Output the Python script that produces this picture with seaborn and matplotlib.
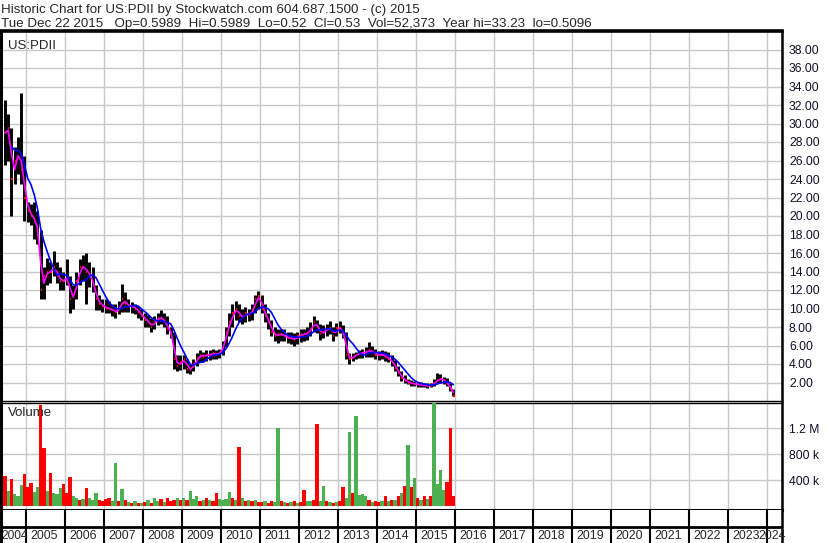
import numpy as np
import pandas as pd
import matplotlib
matplotlib.use("Agg")
import matplotlib.pyplot as plt
import seaborn as sns

# monthly bars, Jun 2004 .. Dec 2015
first_month = "2004-06"
price_hi = [32.5, 31, 29.5, 27.5, 28.5, 33.3, 26.5,
            21.5, 21.3, 21.5, 20.5, 18.5, 14.5, 15.5, 15, 16.2, 15, 14.5, 14,
            15.3, 13.5, 12.5, 14, 15.3, 15.8, 16, 15, 14.5, 12.5, 11.5, 11,
            11, 10.8, 10.5, 10.5, 10.8, 12.6, 11.8, 11, 10.7, 10.5, 10.3, 10,
            9.5, 9.3, 9, 9.2, 9.5, 9.8, 9.5, 9.2, 8, 7.5, 5, 5,
            5, 4.5, 4, 4.5, 5.2, 5.5, 5.3, 5.5, 5.5, 5.6, 5.5, 5.6,
            6.5, 8, 9.5, 10.5, 10.8, 10.5, 10, 10.2, 10, 10.5, 11.5, 11.9,
            11.5, 10.5, 9.5, 8.8, 8, 7.8, 7.8, 7.8, 7.5, 7.5, 7.3, 7.5,
            7.8, 7.8, 8, 8.5, 9.2, 8.8, 8.3, 8.2, 8.3, 8.6, 8, 8.4,
            8.6, 8.2, 7.5, 5.2, 5.2, 5.3, 5.5, 5.6, 5.8, 6.4, 6, 5.6,
            5.4, 5.5, 5.4, 5.3, 5, 4.4, 3.8, 3.2, 2.8, 2.4, 2.3, 2.2,
            2.1, 2.1, 2, 2, 2, 2.4, 3, 2.9, 2.6, 2.5, 1.9, 1.3]
price_lo = [25.5, 26, 20, 23.5, 24.5, 23.5, 19.5,
            19.3, 19, 17.5, 17, 11, 11, 12.5, 12.8, 13.5, 12.8, 12, 12,
            12.5, 9.5, 10, 11, 12.5, 13, 10.5, 12.3, 11.8, 9.8, 9.8, 9.6,
            9.5, 9.5, 9.2, 9, 9.4, 9.6, 9.6, 9.6, 9.5, 9.4, 9, 8.8,
            8, 8, 7.5, 7.8, 8.2, 8.3, 8, 7.2, 6.8, 3.5, 3.2, 3.3,
            3.5, 3, 2.9, 3.2, 3.8, 4.2, 4.2, 4.3, 4.4, 4.5, 4.5, 4.6,
            5, 5.8, 7, 8, 8.8, 8.5, 8.3, 8.5, 8.6, 8.8, 9.5, 10,
            9.5, 8.5, 7.8, 7, 6.5, 6.3, 6.5, 6.5, 6.3, 6.2, 6, 6.2,
            6.4, 6.5, 6.6, 7, 7.5, 7.3, 6.6, 6.8, 7, 7.2, 6.5, 7,
            7.3, 6.8, 4.5, 4, 4.3, 4.5, 4.6, 4.7, 4.8, 4.8, 4.8, 4.5,
            4.4, 4.5, 4.3, 4.2, 3.8, 3.2, 2.7, 2.2, 1.9, 1.8, 1.6, 1.6,
            1.5, 1.5, 1.5, 1.4, 1.5, 1.6, 1.9, 2, 1.8, 1.6, 1.1, 0.52]
price_cl = [29, 29.5, 24, 26, 27, 25, 22,
            20.5, 20, 19.5, 18, 12, 13.5, 14, 14, 14.5, 13.5, 13, 13,
            13.5, 11, 11.5, 13, 14.5, 14.5, 14, 13.5, 12.5, 11, 10.5, 10.3,
            10, 10, 9.8, 9.6, 10, 11, 10.5, 10.3, 10.2, 10, 9.6, 9.2,
            8.8, 8.5, 8, 8.6, 9, 9, 8.5, 7.8, 7.2, 4.5, 3.8, 4.2,
            4.5, 3.5, 3.4, 4, 4.6, 5, 4.8, 5, 5, 5.2, 5, 5.2,
            6, 7.5, 8.5, 9.5, 10, 9.2, 9, 9.5, 9.3, 9.8, 11, 11.3,
            10, 9.2, 8.5, 7.5, 7, 7.2, 7.2, 7, 6.8, 6.8, 6.6, 7,
            7.2, 7.2, 7.4, 7.8, 8.5, 8, 7.2, 7.5, 7.8, 7.9, 7, 7.9,
            7.9, 7.2, 5, 4.5, 4.8, 5, 5.2, 5.2, 5.3, 5.5, 5.3, 5,
            5, 5, 4.8, 4.5, 4.2, 3.6, 3, 2.5, 2.2, 2, 1.9, 1.8,
            1.8, 1.7, 1.7, 1.6, 1.7, 2, 2.3, 2.4, 2.2, 1.8, 1.3, 0.53]
volume_k = [460, 230, 415, 180, 150, 330, 490,
            300, 350, 220, 300, 1550, 890, 230, 505, 200, 180, 280, 340,
            200, 445, 150, 120, 100, 110, 275, 120, 90, 200, 100, 80,
            110, 120, 70, 660, 80, 260, 90, 60, 50, 70, 40, 50,
            60, 100, 50, 120, 70, 110, 60, 130, 80, 90, 120, 100,
            120, 90, 230, 110, 150, 80, 100, 130, 90, 70, 200, 110,
            90, 110, 215, 130, 100, 905, 120, 80, 90, 70, 100, 60,
            60, 70, 50, 80, 60, 1200, 70, 60, 50, 60, 70, 50,
            60, 250, 70, 80, 90, 1260, 80, 310, 70, 60, 50, 60,
            70, 290, 120, 1140, 200, 1380, 170, 180, 160, 90, 60, 70,
            60, 70, 160, 80, 90, 100, 150, 200, 310, 940, 300, 430,
            120, 100, 150, 110, 160, 1580, 340, 555, 250, 370, 1200, 150]
volume_up = [0, 1, 0, 1, 1, 1, 0,
             0, 0, 1, 1, 0, 0, 1, 0, 1, 1, 1, 0,
             0, 0, 1, 1, 0, 1, 0, 1, 1, 1, 0, 0,
             0, 0, 1, 1, 0, 1, 0, 1, 0, 1, 0, 1,
             0, 1, 0, 1, 1, 0, 1, 0, 0, 0, 1, 0,
             1, 0, 1, 1, 1, 0, 1, 0, 1, 0, 0, 1,
             1, 1, 1, 0, 1, 0, 1, 0, 1, 0, 1, 0,
             0, 1, 0, 0, 1, 1, 0, 1, 0, 1, 0, 1,
             0, 0, 1, 1, 0, 0, 1, 1, 0, 1, 0, 1,
             0, 0, 1, 1, 0, 1, 1, 1, 1, 0, 1, 0,
             0, 1, 0, 1, 0, 1, 0, 1, 0, 1, 0, 1,
             0, 1, 0, 1, 0, 1, 1, 1, 1, 0, 0, 0]
years = list(range(2004, 2025))
price_ticks = list(range(2, 40, 2))
vol_ticks = [400, 800, 1200]
vol_tick_labels = ["400 k", "800 k", "1.2 M"]

title1 = "Historic Chart for US:PDII by Stockwatch.com 604.687.1500 - (c) 2015"
title2 = ("Tue Dec 22 2015   Op=0.5989  Hi=0.5989  Lo=0.52  Cl=0.53  "
          "Vol=52,373  Year hi=33.23  lo=0.5096")

dates = pd.period_range(first_month, periods=len(price_cl), freq="M")
df = pd.DataFrame({
    "t": dates.year + (dates.month - 0.5) / 12,
    "hi": price_hi, "lo": price_lo, "cl": price_cl,
    "vol": volume_k, "up": volume_up,
})
# moving averages of the close, like the chart's two overlays
df["ma_fast"] = df["cl"].rolling(2, min_periods=1).mean()
df["ma_slow"] = df["cl"].rolling(6, min_periods=3).mean()

sns.set_style("white")
plt.rcParams["font.family"] = ["Liberation Sans", "DejaVu Sans"]

W, H = 830, 543
fig = plt.figure(figsize=(W / 100, H / 100), dpi=100)
fig.patch.set_facecolor("white")


def px_axes(x0, y0, x1, y1):
    return fig.add_axes([x0 / W, 1 - y1 / H, (x1 - x0) / W, (y1 - y0) / H])


ax_p = px_axes(1, 31, 782, 401)
ax_v = px_axes(1, 403, 782, 510)
ax_y = px_axes(1, 510, 782, 543)

x_left = 2005 + (2 - 27) / 38.95
x_right = 2005 + (782 - 27) / 38.95
grid_c = "#c8c8c8"

for ax in (ax_p, ax_v, ax_y):
    ax.set_xlim(x_left, x_right)
    ax.set_xticks(years[1:])
    ax.set_xticklabels([])
    ax.tick_params(axis="x", length=0)
    for s in ax.spines.values():
        s.set_color("black")
        s.set_visible(True)

# price panel
ax_p.vlines(df["t"], df["lo"], df["hi"], color="black", lw=2.1, zorder=3)
ax_p.hlines(df["cl"], df["t"], df["t"] + 0.03, color="red", lw=1.6, zorder=4)
sns.lineplot(data=df, x="t", y="ma_fast", ax=ax_p, color="#ff00ff", lw=1.2, zorder=5)
sns.lineplot(data=df, x="t", y="ma_slow", ax=ax_p, color="#0000ff", lw=1.2, zorder=6)
ax_p.set_ylim(0, 40)
ax_p.set_yticks(price_ticks)
ax_p.set_yticklabels([f"{v:.2f}" for v in price_ticks])
ax_p.grid(True, color=grid_c, lw=1, zorder=0)
ax_p.text(0.009, 0.977, "US:PDII", transform=ax_p.transAxes, fontsize=9.5, va="top")
ax_p.spines["top"].set_linewidth(2.6)
ax_p.spines["left"].set_linewidth(2.2)
ax_p.spines["right"].set_linewidth(1.8)
ax_p.spines["bottom"].set_linewidth(1)

# volume panel
ax_v.bar(df["t"], df["vol"], width=1 / 12, linewidth=0,
         color=np.where(df["up"] == 1, "#4caf50", "#ff0000"), zorder=3)
ax_v.set_ylim(-61, 1585)
ax_v.set_yticks(vol_ticks)
ax_v.set_yticklabels(vol_tick_labels)
ax_v.grid(True, color=grid_c, lw=1, zorder=0)
ax_v.text(0.009, 0.96, "Volume", transform=ax_v.transAxes, fontsize=9.5, va="top")
ax_v.spines["top"].set_linewidth(1)
ax_v.spines["bottom"].set_linewidth(2.2)
ax_v.spines["left"].set_linewidth(2.2)
ax_v.spines["right"].set_linewidth(1.8)

for ax in (ax_p, ax_v):
    ax.set_xlabel("")
    ax.set_ylabel("")
    ax.yaxis.tick_right()
    ax.tick_params(axis="y", length=0, pad=5, labelsize=8.7, labelcolor="#10102a")

# year strip
ax_y.set_ylim(0, 1)
ax_y.set_yticks([])
ax_y.axhline(0.485, color="black", lw=2)
ax_y.vlines(years[1:], 0, 1, color="black", lw=1.5)
for yr in years:
    if yr == 2004:
        ax_y.text(x_left + 0.01, 0.22, str(yr), ha="left", va="center", fontsize=8.6, clip_on=False)
    elif yr == 2024:
        ax_y.text(yr + 0.49, 0.22, str(yr), ha="right", va="center", fontsize=8.9, clip_on=False)
    else:
        ax_y.text(yr + 0.46, 0.22, str(yr), ha="center", va="center", fontsize=8.9)
ax_y.spines["top"].set_visible(False)
ax_y.spines["bottom"].set_visible(False)
ax_y.spines["left"].set_linewidth(2.2)
ax_y.spines["right"].set_linewidth(1.8)

fig.text(1 / W, 1 - 13.5 / H, title1, fontsize=9.6, va="baseline")
fig.text(1 / W, 1 - 27.5 / H, title2, fontsize=9.6, va="baseline")

fig.savefig("out.png", dpi=100)
